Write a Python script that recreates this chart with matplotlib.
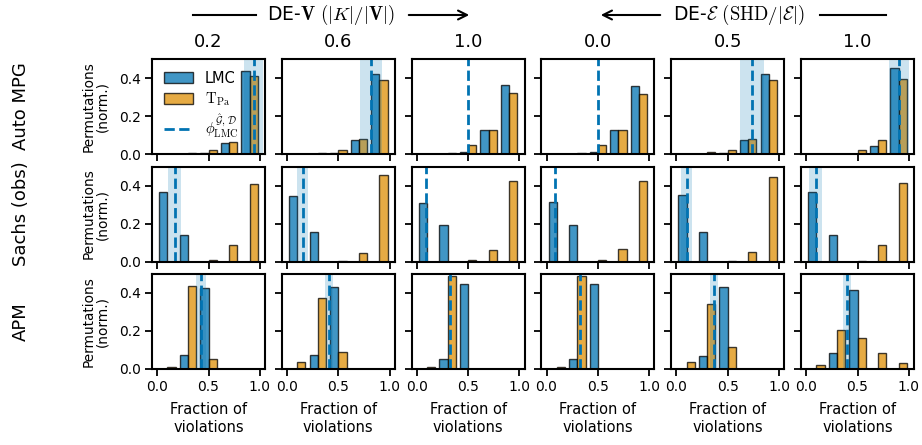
import numpy as np
import matplotlib
matplotlib.use("Agg")
import matplotlib.pyplot as plt
from matplotlib.patches import FancyArrowPatch
from matplotlib.lines import Line2D

plt.rcParams["font.family"] = ["DejaVu Sans"]
plt.rcParams["mathtext.fontset"] = "cm"

# Histogram bins of the fraction of violations (five equal bins on [0, 1])
bin_centers = [0.1, 0.3, 0.5, 0.7, 0.9]

col_labels = ["0.2", "0.6", "1.0", "0.0", "0.5", "1.0"]
row_labels = ["Auto MPG", "Sachs (obs)", "APM"]

# Normalised permutation counts per bin, one list per column
auto_lmc = [
    [0.000, 0.002, 0.003, 0.058, 0.435],
    [0.000, 0.002, 0.003, 0.072, 0.423],
    [0.000, 0.002, 0.012, 0.125, 0.365],
    [0.000, 0.002, 0.010, 0.125, 0.360],
    [0.001, 0.002, 0.006, 0.074, 0.419],
    [0.000, 0.002, 0.002, 0.042, 0.453],
]
auto_tpa = [
    [0.000, 0.004, 0.021, 0.063, 0.409],
    [0.000, 0.005, 0.023, 0.079, 0.388],
    [0.000, 0.003, 0.047, 0.128, 0.319],
    [0.000, 0.004, 0.046, 0.126, 0.318],
    [0.002, 0.008, 0.020, 0.080, 0.390],
    [0.000, 0.002, 0.021, 0.075, 0.395],
]
sachs_lmc = [
    [0.365, 0.137, 0.000, 0.000, 0.000],
    [0.347, 0.155, 0.000, 0.000, 0.000],
    [0.308, 0.192, 0.000, 0.000, 0.000],
    [0.312, 0.190, 0.000, 0.000, 0.000],
    [0.349, 0.153, 0.000, 0.000, 0.000],
    [0.367, 0.137, 0.000, 0.000, 0.000],
]
sachs_tpa = [
    [0.000, 0.000, 0.007, 0.086, 0.409],
    [0.000, 0.000, 0.002, 0.044, 0.455],
    [0.000, 0.000, 0.009, 0.063, 0.425],
    [0.000, 0.000, 0.007, 0.065, 0.425],
    [0.000, 0.000, 0.002, 0.051, 0.446],
    [0.000, 0.000, 0.002, 0.086, 0.412],
]
apm_lmc = [
    [0.000, 0.075, 0.426, 0.000, 0.000],
    [0.000, 0.074, 0.430, 0.000, 0.000],
    [0.000, 0.051, 0.447, 0.000, 0.000],
    [0.000, 0.051, 0.447, 0.000, 0.000],
    [0.000, 0.070, 0.432, 0.000, 0.000],
    [0.000, 0.086, 0.416, 0.000, 0.000],
]
apm_tpa = [
    [0.011, 0.437, 0.053, 0.000, 0.000],
    [0.037, 0.374, 0.088, 0.000, 0.000],
    [0.011, 0.491, 0.000, 0.000, 0.000],
    [0.011, 0.491, 0.000, 0.000, 0.000],
    [0.037, 0.342, 0.118, 0.000, 0.000],
    [0.019, 0.204, 0.165, 0.082, 0.032],
]

# Violation fraction of the LMC-selected graph (mean and spread)
auto_phi = [0.94, 0.82, 0.50, 0.50, 0.735, 0.905]
auto_phi_sd = [0.09, 0.105, 0.0, 0.0, 0.12, 0.10]
sachs_phi = [0.17, 0.154, 0.086, 0.082, 0.10, 0.092]
sachs_phi_sd = [0.06, 0.053, 0.0, 0.0, 0.05, 0.062]
apm_phi = [0.426, 0.409, 0.327, 0.33, 0.366, 0.394]
apm_phi_sd = [0.052, 0.042, 0.0, 0.0, 0.04, 0.04]

rows = [
    (auto_lmc, auto_tpa, auto_phi, auto_phi_sd),
    (sachs_lmc, sachs_tpa, sachs_phi, sachs_phi_sd),
    (apm_lmc, apm_tpa, apm_phi, apm_phi_sd),
]

BLUE = "#0173B2"
ORANGE = "#DE8F05"

W, H = 922, 445
fig = plt.figure(figsize=(W / 100, H / 100), dpi=100)

ax_left0 = 152
ax_step = 129.8
ax_w = 113
row_tops = [59, 166.5, 274]
ax_h = 95

bar_w = 0.08
centers = np.array(bin_centers)

for r, (lmc, tpa, phi, phi_sd) in enumerate(rows):
    for c in range(6):
        left = (ax_left0 + c * ax_step) / W
        bottom = 1 - (row_tops[r] + ax_h) / H
        ax = fig.add_axes([left, bottom, ax_w / W, ax_h / H])

        b1 = ax.bar(centers - bar_w / 2, lmc[c], width=bar_w, color=BLUE, alpha=0.75,
                    edgecolor="black", linewidth=1.0, label="LMC")
        b2 = ax.bar(centers + bar_w / 2, tpa[c], width=bar_w, color=ORANGE, alpha=0.75,
                    edgecolor="black", linewidth=1.0,
                    label=r"$\mathrm{T}_{\mathrm{Pa}}$")
        if phi_sd[c] > 0:
            ax.axvspan(phi[c] - phi_sd[c], phi[c] + phi_sd[c], color=BLUE,
                       alpha=0.2, lw=0)
        ln = ax.axvline(phi[c], color=BLUE, ls="--", lw=2.0,
                        label=r"$\phi^{\hat{\mathcal{G}},\,\mathcal{D}}_{\mathrm{LMC}}$")

        ax.set_xlim(-0.05, 1.05)
        ax.set_ylim(0, 0.5)
        ax.set_xticks([0.0, 0.5, 1.0])
        ax.set_yticks([0.0, 0.2, 0.4])
        ax.tick_params(width=1.3, length=5, labelsize=10, pad=3)
        for s in ax.spines.values():
            s.set_linewidth(1.5)

        if c == 0:
            ax.set_ylabel("Permutations\n(norm.)", fontsize=9.8, linespacing=1.0,
                          labelpad=7)
        else:
            ax.set_yticklabels([])
        if r == 2:
            ax.set_xticklabels(["0.0", "0.5", "1.0"])
            ax.set_xlabel("Fraction of\nviolations", fontsize=10.5,
                          linespacing=1.2, labelpad=6)
        else:
            ax.set_xticklabels([])

        if r == 0 and c == 0:
            ax.legend(handles=[b1, b2, ln], loc="upper left", frameon=False,
                      fontsize=10.5, handlelength=2.0, handleheight=0.8,
                      labelspacing=0.35, borderaxespad=0.4)

        if r == 0:
            fig.text(left + ax_w / W / 2, 1 - 42 / H, col_labels[c],
                     ha="center", va="center", fontsize=13)

    # Dataset name on the left of each row
    fig.text(21 / W, 1 - (row_tops[r] + ax_h / 2) / H, row_labels[r],
             rotation=90, ha="center", va="center", fontsize=13)

# Column group headers with direction arrows
yh = 1 - 15 / H


def fig_arrow(x0, x1):
    fig.add_artist(FancyArrowPatch((x0 / W, yh), (x1 / W, yh),
                                   transform=fig.transFigure, arrowstyle="->",
                                   mutation_scale=16, color="black", lw=1.5))


def fig_line(x0, x1):
    fig.add_artist(Line2D([x0 / W, x1 / W], [yh, yh], transform=fig.transFigure,
                          color="black", lw=1.5))


fig.text(331 / W, yh, r"DE-$\mathbf{V}$ $(|K|/|\mathbf{V}|)$",
         ha="center", va="center", fontsize=13.5)
fig_line(193, 256)
fig_arrow(406, 472)

fig.text(739 / W, yh, r"DE-$\mathcal{E}$ $(\mathrm{SHD}/|\mathcal{E}|)$",
         ha="center", va="center", fontsize=13.5)
fig_arrow(663, 598)
fig_line(820, 886)

fig.savefig("out.png", dpi=100)
